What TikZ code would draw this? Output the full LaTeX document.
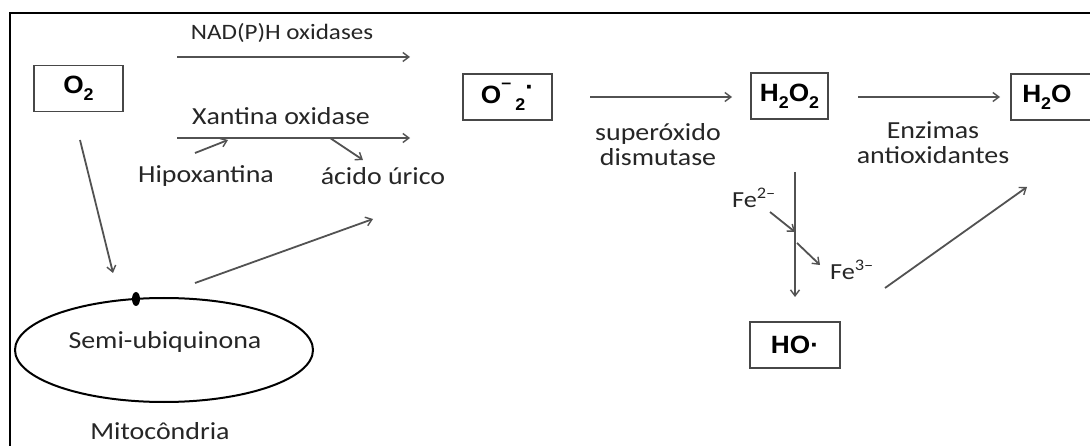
\documentclass[tikz,border=0pt]{standalone}
\usepackage{fontspec}
\setmainfont[FakeStretch=1.14]{Carlito}
\newfontfamily\boxfont[FakeStretch=1.05]{Liberation Sans}
\usetikzlibrary{arrows.meta,shapes.geometric}
\tikzset{
  conn/.style={draw=black!68, line width=1.8pt, -{Straight Barb[length=6pt,width=9pt,line width=1.4pt]}},
  species/.style={draw=black!72, line width=1.8pt, inner sep=0pt, minimum height=46pt,
     font=\boxfont\bfseries\fontsize{25}{27}\selectfont, text=black},
  lbl/.style={font=\fontsize{24.5}{26}\selectfont, text=black!85, inner sep=0pt, align=center},
}
\newcommand{\mysub}[1]{\raisebox{-0.28em}{\fontsize{17}{18}\selectfont #1}}
\begin{document}
\begin{tikzpicture}[x=1pt,y=-1pt]
\useasboundingbox (0,0) rectangle (1090,446);
\fill[white] (0,0) rectangle (1090,446);
\draw[black, line width=1.5pt] (10,13) rectangle (1110,470);

% species boxes
\node[species, minimum width=89pt] (o2) at (78.5,88.5) {O\mysub{2}};
\node[species, minimum width=89pt] (sup) at (507.5,97) {O\raisebox{0.62em}{\fontsize{17}{18}\selectfont –}\,\mysub{2}\raisebox{0.35em}{·}};
\node[species, minimum width=77pt] (h2o2) at (789.5,96) {H\mysub{2}O\mysub{2}};
\node[species, minimum width=82pt, anchor=west] (h2o) at (1010,97) {\hspace*{-10pt}H\mysub{2}O};
\node[species, minimum width=90pt] (ho) at (795,345) {HO·};

% mitochondria
\node[ellipse, draw=black, line width=2pt, minimum width=298pt, minimum height=104pt, inner sep=0pt] (mito) at (164,350) {};
\node[ellipse, fill=black, minimum width=8pt, minimum height=14pt, inner sep=0pt] (dot) at (136,299) {};
\node[lbl] (semi) at (165,342) {Semi-ubiquinona};
\node[lbl] (mitolbl) at (160,431) {Mitocôndria};

% labels
\node[lbl, font=\fontsize{22}{24}\selectfont] (nad) at (282,33) {NAD(P)H oxidases};
\node[lbl] (xan) at (281,116) {Xantina oxidase};
\node[lbl] (hip) at (206,176) {Hipoxantina};
\node[lbl] (acido) at (383,176) {ácido úrico};
\node[lbl, align=center] (sod) at (658,145) {superóxido\\[-1pt]dismutase};
\node[lbl, align=center] (enz) at (933,143) {Enzimas\\[-1pt]antioxidantes};
\node[lbl, font=\fontsize{23}{25}\selectfont] (fe2) at (754,198) {Fe\textsuperscript{2–}};
\node[lbl, font=\fontsize{23}{25}\selectfont] (fe3) at (852,270) {Fe\textsuperscript{3–}};

% connector end points
\coordinate (nadS) at (177,57);  \coordinate (nadE) at (410,57);
\coordinate (xanS) at (177,138); \coordinate (xanE) at (410,138);
\coordinate (hipS) at (195,153); \coordinate (hipE) at (228,140);
\coordinate (acS) at (330,138);  \coordinate (acE) at (363,160);
\coordinate (o2S) at (80,140);   \coordinate (o2E) at (113,273);
\coordinate (mitS) at (195,283); \coordinate (mitE) at (373,219);
\coordinate (sodS) at (590,97);  \coordinate (sodE) at (732,97);
\coordinate (enzS) at (858,97);  \coordinate (enzE) at (1000,97);
\coordinate (fenS) at (795,172); \coordinate (fenE) at (795,297);
\coordinate (fe2S) at (770,212); \coordinate (fe2E) at (795,232);
\coordinate (fe3S) at (797,243); \coordinate (fe3E) at (820,265);
\coordinate (diaS) at (885,288); \coordinate (diaE) at (1027,187);

\draw[conn] (nadS) -- (nadE);
\draw[conn] (xanS) -- (xanE);
\draw[conn] (hipS) -- (hipE);
\draw[conn] (acS) -- (acE);
\draw[conn] (o2S) -- (o2E);
\draw[conn] (mitS) -- (mitE);
\draw[conn] (sodS) -- (sodE);
\draw[conn] (enzS) -- (enzE);
\draw[conn] (fenS) -- (fenE);
\draw[conn] (fe2S) -- (fe2E);
\draw[conn] (fe3S) -- (fe3E);
\draw[conn] (diaS) -- (diaE);
\end{tikzpicture}
\end{document}
